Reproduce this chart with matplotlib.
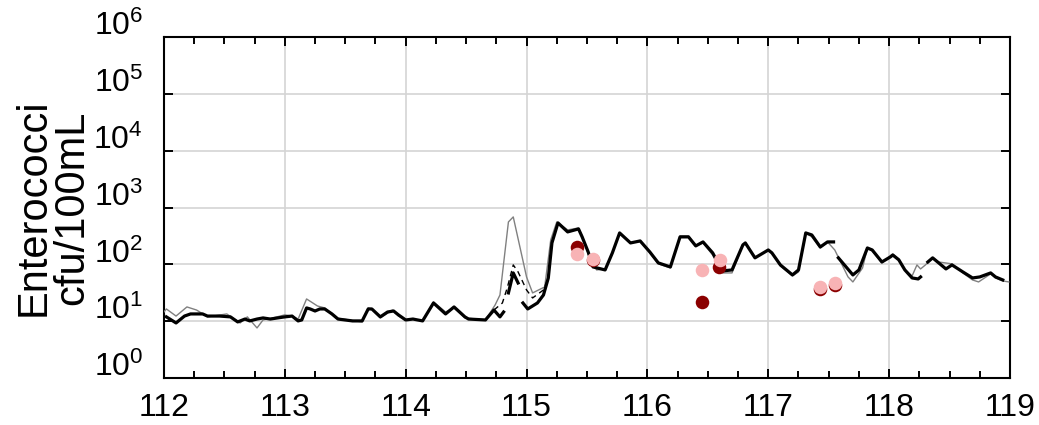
import numpy as np
import matplotlib
matplotlib.use('Agg')
import matplotlib.pyplot as plt
from matplotlib.ticker import MultipleLocator, LogLocator, NullFormatter
import matplotlib.transforms as mtransforms

plt.rcParams['font.family'] = 'Liberation Sans'
plt.rcParams['mathtext.fontset'] = 'custom'
plt.rcParams['mathtext.rm'] = 'Liberation Sans'
plt.rcParams['mathtext.it'] = 'Liberation Sans'
plt.rcParams['mathtext.default'] = 'regular'

nan = np.nan

# model (thick black), with gaps
model_day = [112.02, 112.10, 112.17, 112.22, 112.26, 112.32, 112.36, 112.46, 112.55, 112.61,
             112.67, 112.71, 112.77, 112.82, 112.88, 112.94, 113.00, 113.06, 113.11, 113.14,
             113.18, 113.21, 113.25, 113.29, 113.33, 113.39, 113.44, 113.56, 113.64, 113.69,
             113.72, 113.79, 113.85, 113.90, 113.94, 114.00, 114.06, 114.14, 114.23, 114.33,
             114.40, 114.49, 114.52, 114.66, 114.73, 114.78, 114.81, 114.83, 114.85, 114.89,
             114.93, 114.95, 114.97, 115.01, 115.09, 115.14, 115.18, 115.21, 115.26, 115.34,
             115.43, 115.46, 115.51, 115.55, 115.65, 115.71, 115.77, 115.86, 115.94, 116.02,
             116.09, 116.19, 116.27, 116.34, 116.40, 116.46, 116.54, 116.62, 116.70, 116.79,
             116.81, 116.89, 117.00, 117.03, 117.10, 117.20, 117.25, 117.31, 117.36, 117.43,
             117.49, 117.54, 117.56, 117.58, 117.70, 117.75, 117.82, 117.86, 117.94, 118.01,
             118.03, 118.08, 118.13, 118.19, 118.24, 118.26, 118.29, 118.32, 118.36, 118.41,
             118.47, 118.52, 118.61, 118.69, 118.75, 118.84, 118.88, 118.94]
model_ent = [11.9, 9.3, 12.3, 13.4, 13.4, 13.4, 12.3, 12.3, 11.9, 9.7,
             10.9, 10.1, 10.9, 11.4, 10.9, 11.4, 11.9, 12.3, 10.1, 10.5,
             17.1, 16.4, 15.1, 16.4, 16.4, 13.4, 10.9, 10.1, 10.1, 16.4,
             16.4, 11.9, 14.5, 15.1, 12.9, 10.5, 10.9, 10.1, 20.9, 13.4,
             17.8, 11.9, 10.9, 10.5, 15.7, 11.9, 14.5, nan, 31.4, 70.6,
             47, nan, 20.9, 16.4, 20.9, 28.9, 57.6, 238, 536, 372,
             420, 304, 165, 90, 79.7, 159, 357, 238, 258, 165,
             106, 90, 304, 304, 211, 248, 159, 76.5, 79.7, 220,
             238, 130, 179, 159, 97.6, 65.1, 79.7, 357, 329, 202,
             248, 248, nan, 130, 65.1, 79.7, 194, 179, 110, 135,
             146, 120, 79.7, 57.6, 55.3, 60, nan, 110, 130, 106,
             83, 97.6, 73.5, 57.6, 60, 70.6, 60, 53.1]

# alternative model (thin gray)
alt_day = [112.00, 112.02, 112.10, 112.19, 112.27, 112.36, 112.52, 112.63, 112.69, 112.77,
           112.82, 112.90, 113.00, 113.06, 113.11, 113.18, 113.27, 113.33, 113.42, 113.64,
           113.69, 113.72, 113.79, 113.89, 113.94, 114.00, 114.06, 114.14, 114.23, 114.33,
           114.40, 114.49, 114.66, 114.74, 114.78, 114.85, 114.89, 115.00, 115.05, 115.15,
           115.20, 115.25, 115.34, 115.43, 115.46, 115.51, 115.58, 115.65, 115.71, 115.77,
           115.86, 115.94, 116.02, 116.09, 116.19, 116.27, 116.34, 116.40, 116.46, 116.54,
           116.62, 116.70, 116.79, 116.81, 116.89, 117.00, 117.03, 117.10, 117.20, 117.25,
           117.31, 117.36, 117.43, 117.49, 117.55, 117.66, 117.70, 117.78, 117.82, 117.86,
           117.94, 118.01, 118.03, 118.08, 118.13, 118.19, 118.23, 118.26, 118.30, 118.36,
           118.41, 118.52, 118.61, 118.69, 118.74, 118.84, 118.88, 118.94, 118.99]
alt_ent = [14.5, 16.4, 12.3, 17.8, 15.7, 11.9, 13.4, 9.3, 11.9, 7.6,
           10.5, 11.4, 12.9, 12.3, 10.9, 24.6, 18.5, 17.1, 11.4, 9.7,
           17.1, 16.4, 11.4, 15.7, 12.3, 10.5, 10.9, 10.1, 21.8, 14.5,
           17.1, 11.4, 10.5, 19.3, 28.9, 557, 683, 60, 31.4, 40,
           269, 557, 403, 437, 316, 152, 79.7, 83, 159, 357,
           238, 258, 159, 102, 86.4, 316, 316, 211, 238, 146,
           70.6, 70.6, 220, 238, 130, 179, 159, 93.7, 62.5, 73.5,
           357, 304, 194, 248, 179, 60, 49, 86.4, 194, 172,
           106, 141, 152, 124, 79.7, 62.5, 97.6, 83, 97.6, 130,
           110, 102, 70.6, 53.1, 49, 68, 57.6, 51, 49]

# dashed run, where it departs from the model
dash_day = [114.73, 114.80, 114.84, 114.89, 114.93, 115.00, 115.05, 115.14, 115.18]
dash_ent = [15.7, 20.9, 38.4, 97.6, 73.5, 35.4, 25.6, 35.4, 57.6]

# observations
obs1_day = [115.42, 115.55, 116.45, 116.59, 117.43, 117.55]
obs1_ent = [202, 120, 21.8, 90, 37, 43]
obs2_day = [115.42, 115.55, 116.45, 116.60, 117.43, 117.55]
obs2_ent = [152, 124, 79.7, 120, 40, 47]

fig = plt.figure(figsize=(10.39, 4.25), dpi=100)
ax = fig.add_axes([0.1578, 0.1106, 0.8143, 0.8023])

ax.plot(alt_day, alt_ent, color='#808080', lw=1.0, zorder=3)
ax.plot(model_day, model_ent, color='black', lw=2.3, zorder=4)
ax.plot(dash_day, dash_ent, color='black', lw=1.0, ls=(0, (4, 3)), zorder=4)
ax.scatter(obs1_day, obs1_ent, s=95, color='#8b0000', zorder=5, linewidths=0)
ax.scatter(obs2_day, obs2_ent, s=95, color='#f8b3b5', zorder=6, linewidths=0)

ax.set_yscale('log')
ax.set_ylim(1, 1e6)
ax.set_xlim(112, 119)
ax.set_yticks(10.0 ** np.arange(0, 7))
ax.yaxis.set_minor_locator(LogLocator(base=10, subs=np.arange(2, 10)))
ax.yaxis.set_minor_formatter(NullFormatter())
ax.xaxis.set_major_locator(MultipleLocator(1))
ax.xaxis.set_minor_locator(MultipleLocator(0.25))

ax.grid(True, which='major', color='#d4d4d4', lw=1.2)
ax.set_axisbelow(True)
for s in ax.spines.values():
    s.set_linewidth(1.5)

ax.tick_params(which='both', direction='in', top=True, right=True, width=1.4, labelsize=23)
ax.tick_params(which='major', length=6.5)
ax.tick_params(which='minor', length=5)
ax.tick_params(axis='x', pad=11)
ax.tick_params(axis='y', pad=15)

shift = mtransforms.ScaledTranslation(0, 10 / 72, fig.dpi_scale_trans)
for lab in ax.get_yticklabels():
    lab.set_transform(lab.get_transform() + shift)

ax.set_ylabel('Enterococci\ncfu/100mL', fontsize=30, linespacing=0.95)
ax.yaxis.label.set_va('center')
ax.yaxis.set_label_coords(-0.131, 0.5)

fig.savefig('out.png', dpi=100)
